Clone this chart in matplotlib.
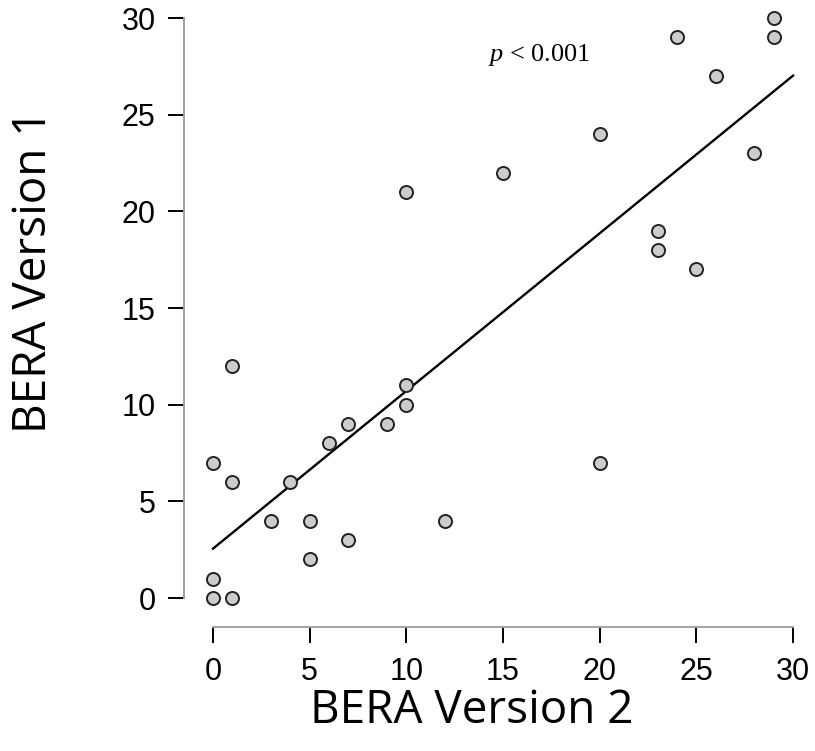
import matplotlib.pyplot as plt
import numpy as np

# BERA scores: version 2 (x) vs version 1 (y)
bera_v2 = [0, 0, 0, 1, 1, 1, 3, 4, 5, 5, 6, 7, 7, 9, 10, 10, 10, 12, 15,
           20, 20, 23, 23, 24, 25, 26, 28, 29, 29]
bera_v1 = [0, 1, 7, 0, 6, 12, 4, 6, 4, 2, 8, 9, 3, 9, 10, 11, 21, 4, 22,
           24, 7, 19, 18, 29, 17, 27, 23, 30, 29]
ticks = [0, 5, 10, 15, 20, 25, 30]

plt.rcParams["mathtext.fontset"] = "custom"
plt.rcParams["mathtext.it"] = "Liberation Serif:italic"
plt.rcParams["mathtext.rm"] = "Liberation Serif"

x = np.array(bera_v2, dtype=float)
y = np.array(bera_v1, dtype=float)
slope, intercept = np.polyfit(x, y, 1)

fig = plt.figure(figsize=(8.15, 7.51), dpi=100)
ax = fig.add_axes([0.2329, 0.1728, 0.7686, 0.834])

xl = np.array([0, 30])
ax.plot(xl, intercept + slope * xl, color="black", lw=1.7, zorder=2)
ax.scatter(x, y, s=88, facecolor="#cccccc", edgecolor="#222222",
           linewidth=1.4, zorder=3, clip_on=False)

ax.set_xlim(-1.2, 31.2)
ax.set_ylim(-1.2, 31.2)

for side in ("top", "right"):
    ax.spines[side].set_visible(False)
for side in ("left", "bottom"):
    ax.spines[side].set_position(("outward", 4.2))
    ax.spines[side].set_bounds(0, 30)
    ax.spines[side].set_color("#a0a0a0")
    ax.spines[side].set_linewidth(1.4)

ax.set_xticks(ticks)
ax.set_yticks(ticks)
ax.tick_params(length=11.5, width=1.4, color="black", labelsize=22)
ax.tick_params(axis="y", pad=9)
ax.tick_params(axis="x", pad=10)
for lab in ax.get_xticklabels() + ax.get_yticklabels():
    lab.set_family("Liberation Sans")

# axis titles
fig.text(472 / 815, 1 - 711 / 751, "BERA Version 2", family="Open Sans",
         fontsize=33, ha="center", va="center")
fig.text(34 / 815, 1 - 271 / 751, "BERA Version 1", family="Open Sans",
         fontsize=33, ha="center", va="center", rotation=90)

ax.text(14.2, 28.1, r"$p$ < 0.001", family="Liberation Serif",
        fontsize=19, va="center", ha="left")

fig.savefig("out.png", dpi=100)
